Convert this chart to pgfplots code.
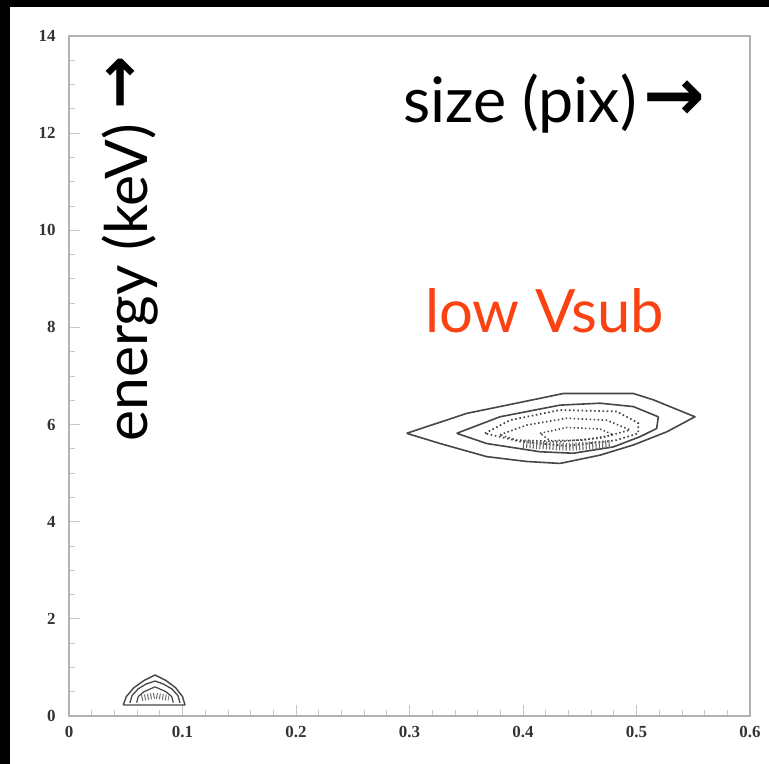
\documentclass[border=0pt]{standalone}
\usepackage{fontspec}
\setmainfont{Liberation Serif}
\newfontfamily\gill{Lato}
\newfontfamily\djv{DejaVu Sans}
\usepackage{pgfplots}
\pgfplotsset{compat=1.18}
\definecolor{lowv}{RGB}{250,66,18}
\definecolor{cont}{RGB}{70,70,70}
\begin{document}
\begin{tikzpicture}
\path[use as bounding box] (-69bp,-48bp) rectangle (700bp,716bp);
\fill[black] (-69bp,-48bp) rectangle (700bp,716bp);
\fill[white] (-59bp,-48bp) rectangle (700bp,709bp);
\begin{axis}[
 at={(0bp,0bp)}, anchor=south west, scale only axis, width=681bp, height=680bp,
 xmin=0, xmax=0.6, ymin=0, ymax=14,
 xtick={0,0.1,0.2,0.3,0.4,0.5,0.6},
 xticklabels={0,0.1,0.2,0.3,0.4,0.5,0.6},
 ytick={0,2,4,6,8,10,12,14},
 yticklabels={0,2,4,6,8,10,12,14},
 minor x tick num=4, minor y tick num=3,
 tick align=inside, tick pos=left,
 major tick length=11bp, minor tick length=6bp,
 every tick/.style={gray!45, line width=0.8bp},
 axis line style={gray!60, line width=1.4bp},
 ticklabel style={font=\bfseries\fontsize{17}{17}\selectfont, text=black!80},
 xticklabel style={yshift=-7bp},
 yticklabel style={xshift=-10bp},
 clip=false,
]
% large contour, outer
\addplot[cont, line width=1.6bp, line join=round] coordinates {
(0.2975,5.82) (0.3504,6.23) (0.415,6.54) (0.4355,6.64) (0.4972,6.64) (0.5148,6.51)
(0.5515,6.16) (0.5266,5.85) (0.4972,5.58) (0.4678,5.37) (0.4326,5.20) (0.4033,5.24)
(0.368,5.34) (0.3269,5.61) (0.2975,5.82)};
% second
\addplot[cont, line width=1.6bp, line join=round] coordinates {
(0.3416,5.82) (0.3797,6.16) (0.4326,6.40) (0.4678,6.44) (0.4972,6.37) (0.5192,6.16)
(0.5178,5.92) (0.5031,5.75) (0.4796,5.54) (0.4443,5.41) (0.415,5.44) (0.368,5.61) (0.3416,5.82)};
% dotted inner
\addplot[cont, line width=1.7bp, dash pattern=on 1.6bp off 2.6bp] coordinates {
(0.3665,5.82) (0.3885,6.09) (0.4326,6.30) (0.4825,6.27) (0.5016,6.03) (0.5016,5.82)
(0.4825,5.68) (0.4385,5.56) (0.3974,5.65) (0.3665,5.82)};
\addplot[cont, line width=1.6bp, dash pattern=on 1.5bp off 2.5bp] coordinates {
(0.3797,5.79) (0.4033,5.99) (0.4385,6.13) (0.4737,6.09) (0.4943,5.89) (0.4678,5.72)
(0.4326,5.65) (0.3944,5.68) (0.3797,5.79)};
\addplot[cont, line width=1.5bp, dash pattern=on 1.4bp off 2.4bp] coordinates {
(0.415,5.82) (0.4385,5.94) (0.4678,5.91) (0.4796,5.79) (0.4531,5.68) (0.4238,5.67) (0.415,5.82)};
% hatched band
\addplot[cont!80, line width=8bp, dash pattern=on 1.1bp off 2.2bp] coordinates {
(0.400,5.60) (0.44,5.54) (0.478,5.60)};
% small contour near origin
\addplot[cont, line width=1.4bp, line join=round] coordinates {
(0.0478,0.226) (0.0505,0.40) (0.057,0.58) (0.066,0.73) (0.0758,0.844) (0.0855,0.73)
(0.094,0.58) (0.1,0.40) (0.1022,0.226) (0.0478,0.226)};
\addplot[cont, line width=1.3bp, line join=round] coordinates {
(0.0537,0.27) (0.0555,0.42) (0.061,0.56) (0.068,0.66) (0.0758,0.72) (0.083,0.66)
(0.0905,0.56) (0.096,0.42) (0.0978,0.27)};
\addplot[cont, line width=1.2bp, line join=round] coordinates {
(0.0596,0.275) (0.061,0.40) (0.066,0.50) (0.0758,0.60) (0.0855,0.50) (0.0905,0.40) (0.0919,0.275)};
\addplot[cont!80, line width=6bp, dash pattern=on 1bp off 2bp] coordinates {
(0.064,0.37) (0.0758,0.42) (0.088,0.37)};
\end{axis}
\node[anchor=base west, inner sep=0pt, font=\gill\fontsize{63}{63}\selectfont] at (334bp,593bp)
  {size (pix)};
\node[inner sep=0pt, font=\djv\bfseries\fontsize{74}{74}\selectfont] at (605bp,615bp) {→};
\node[anchor=base west, inner sep=0pt, rotate=90, font=\gill\fontsize{59}{59}\selectfont] at (78bp,274bp)
  {energy (keV)};
\node[inner sep=0pt, rotate=90, font=\djv\bfseries\fontsize{64}{64}\selectfont] at (54bp,633bp) {→};
\node[anchor=base west, inner sep=0pt, text=lowv, font=\gill\fontsize{60}{60}\selectfont] at (356bp,383bp)
  {low Vsub};
\end{tikzpicture}
\end{document}
